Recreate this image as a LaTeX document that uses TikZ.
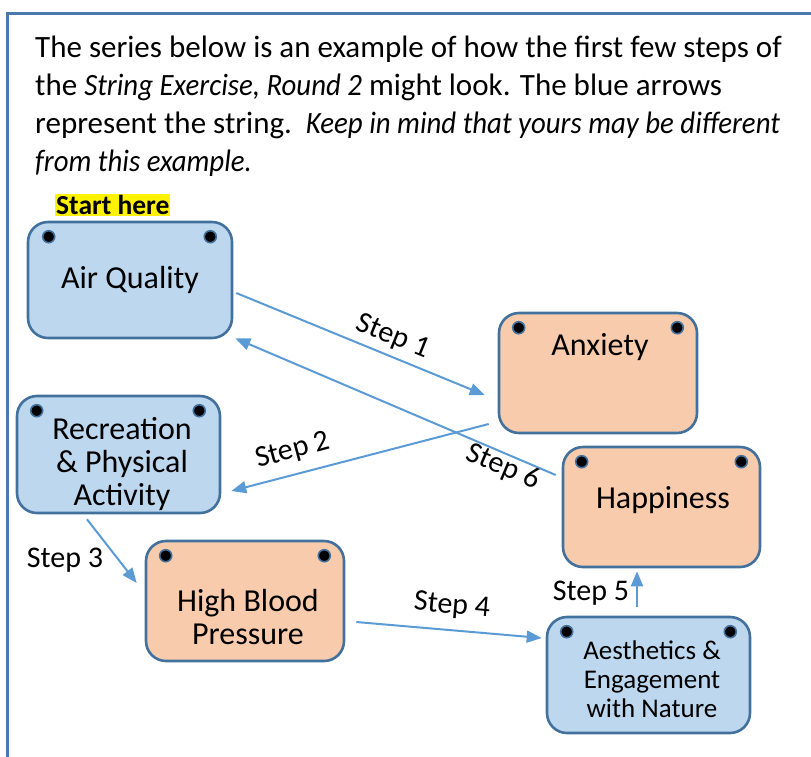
\documentclass[tikz,border=0pt]{standalone}
\usepackage{fontspec}
\setmainfont{Carlito}[ItalicFeatures={FakeStretch=0.93}]
\usetikzlibrary{arrows.meta,calc}
\definecolor{frameblue}{HTML}{4A7AAD}
\definecolor{boxline}{HTML}{41719C}
\definecolor{bluefill}{HTML}{BDD7EE}
\definecolor{orangefill}{HTML}{F8CBAD}
\definecolor{arrowblue}{HTML}{5B9BD5}
\tikzset{
  card/.style={draw=boxline, line width=2.6pt, rounded corners=20pt, inner sep=0pt},
  bluecard/.style={card, fill=bluefill},
  orangecard/.style={card, fill=orangefill},
  pin/.style={circle, fill=black, draw=boxline, line width=1.6pt, minimum size=12pt, inner sep=0pt},
  cardtext/.style={font=\fontsize{32}{33}\selectfont, align=center, inner sep=0pt},
  smalltext/.style={font=\fontsize{27}{29}\selectfont, align=center, inner sep=0pt},
  steplabel/.style={font=\fontsize{30}{30}\selectfont, inner sep=0pt},
  para/.style={anchor=west, inner sep=0pt, font=\fontsize{31}{38}\selectfont},
  string/.style={draw=arrowblue, line width=2pt, -{Triangle[length=15pt,width=12pt]}},
}
\begin{document}
\begin{tikzpicture}[x=1pt,y=-1pt]
\useasboundingbox (0,0) rectangle (811,756);
\begin{scope}
\clip (0,0) rectangle (811,756);
\draw[frameblue, line width=3pt] (7,820) -- (7,13) -- (830,13);
\end{scope}

% paragraph
\node[para] (l1) at (35,49) {The series below is an example of how the first few steps of};
\node[para] (l2) at (35,87) {the \textit{String Exercise, Round 2} might look. The blue arrows};
\node[para] (l3) at (35,125) {represent the string.\ \ \textit{Keep in mind that yours may be different}};
\node[para] (l4) at (35,163) {\textit{from this example.}};

\node[fill=yellow, font=\bfseries\fontsize{27.5}{28}\selectfont, inner xsep=1pt, inner ysep=1pt, anchor=west] (start) at (55,205) {Start here};

% cards
\node[bluecard, minimum width=204pt, minimum height=116pt] (aq) at (130,280) {};
\node[bluecard, minimum width=203pt, minimum height=117pt] (rec) at (118.5,454.5) {};
\node[orangecard, minimum width=198pt, minimum height=120pt] (anx) at (598,373) {};
\node[orangecard, minimum width=197pt, minimum height=120pt] (hap) at (661.5,507) {};
\node[orangecard, minimum width=198pt, minimum height=120pt] (hbp) at (245,601) {};
\node[bluecard, minimum width=203pt, minimum height=116pt] (aes) at (648.5,675) {};

% pins
\foreach \n/\a/\b in {aq/22/23, rec/21/22, anx/21/21, hap/20/20, hbp/21/21, aes/21/21}{
  \node[pin] (\n-pl) at ($(\n.north west)+(\a,16)$) {};
  \node[pin] (\n-pr) at ($(\n.north east)+(-\b,16)$) {};
}

% card texts
\node[cardtext] (aqt) at (130,280) {Air Quality};
\node[cardtext] (rect) at (122,464) {Recreation\\\& Physical\\Activity};
\node[cardtext] (anxt) at (600,347) {Anxiety};
\node[cardtext] (hapt) at (663,500) {Happiness};
\node[cardtext] (hbpt) at (248,617) {High Blood\\Pressure};
\node[smalltext] (aest) at (652,679) {Aesthetics \&\\Engagement\\with Nature};

% string arrows
\coordinate (s1a) at ($(aq.east)+(3,13)$);
\coordinate (s1b) at ($(anx.west)+(-13,22)$);
\draw[string] (s1a) -- (s1b);
\node[steplabel, rotate=-22] (st1) at (393,337) {Step 1};

\coordinate (s2a) at ($(anx.west)+(-9,51)$);
\coordinate (s2b) at ($(rec.east)+(10,36.5)$);
\draw[string] (s2a) -- (s2b);
\node[steplabel, rotate=15] (st2) at (293,451) {Step 2};

\coordinate (s3a) at ($(rec.south)+(-31.5,5)$);
\coordinate (s3b) at ($(hbp.west)+(-8,-18)$);
\draw[string] (s3a) -- (s3b);
\node[steplabel] (st3) at (65,560) {Step 3};

\coordinate (s4a) at ($(hbp.east)+(11,21)$);
\coordinate (s4b) at ($(aes.west)+(-4,-37)$);
\draw[string] (s4a) -- (s4b);
\node[steplabel, rotate=-5] (st4) at (452,606) {Step 4};

\coordinate (s5a) at ($(aes.north)+(-11.5,-9)$);
\coordinate (s5b) at ($(hap.south)+(-24.5,3)$);
\draw[string] (s5a) -- (s5b);
\node[steplabel] (st5) at (591,593) {Step 5};

\coordinate (s6a) at ($(hap.west)+(-6,-32)$);
\coordinate (s6b) at ($(aq.south east)+(2,-1)$);
\draw[string] (s6a) -- (s6b);
\node[steplabel, rotate=-23] (st6) at (503,467) {Step 6};
\end{tikzpicture}
\end{document}
